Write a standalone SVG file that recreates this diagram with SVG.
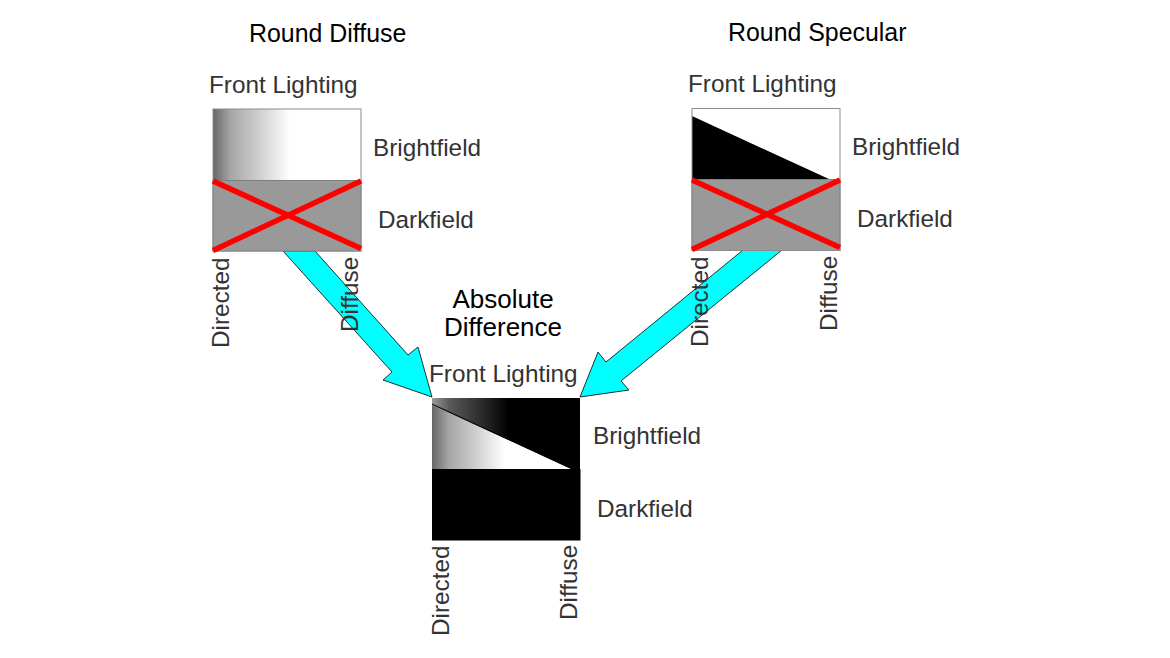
<svg xmlns="http://www.w3.org/2000/svg" width="1170" height="658" viewBox="0 0 1170 658">
<style>
text{font-family:"Liberation Sans",Arial,sans-serif;font-size:24.3px;fill:#333}
.t{fill:#000;font-size:24.9px}
.a{fill:#000;font-size:26px}
.frame{fill:none;stroke:#8c8c8c;stroke-width:1}
.dark{fill:#999;stroke:#808080;stroke-width:1}
.x{stroke:#f00;stroke-width:5.500;fill:none}
.arrow{fill:#0ff;stroke:#000;stroke-width:.8}
</style>
<defs>
<linearGradient id="g1" x1="0" x2="1" y1="0" y2="0"><stop offset="0" stop-color="#666"/><stop offset=".12" stop-color="#a6a6a6"/><stop offset=".3" stop-color="#ccc"/><stop offset=".52" stop-color="#fff"/></linearGradient>
<linearGradient id="g2" x1="0" x2="1" y1="0" y2="0"><stop offset="0" stop-color="#999"/><stop offset=".12" stop-color="#595959"/><stop offset=".3" stop-color="#333"/><stop offset=".52" stop-color="#000"/></linearGradient>
</defs>
<rect width="1170" height="658" fill="#fff"/>
<g id="connectors">
<path class="arrow" d="M283 251L392 372L383 380L432 397L418 347L408 355L315 251Z"/>
<path class="arrow" d="M743 250L606 362L598 352L580 397L629 390L621 381L782 250Z"/>
</g>
<g id="round-diffuse">
<text class="t" x="249" y="42">Round Diffuse</text>
<text x="209" y="93">Front Lighting</text>
<rect x="213" y="109" width="148" height="71.500" fill="url(#g1)"/>
<rect class="dark" x="213" y="180.500" width="148" height="70.500"/>
<rect class="frame" x="213" y="109" width="148" height="142"/>
<path class="x" d="M213 181L361 248.500M213 250.500L361 181"/>
<text x="373" y="156">Brightfield</text>
<text x="378" y="228">Darkfield</text>
<text transform="translate(229 348) rotate(-90)">Directed</text>
<text transform="translate(358 332) rotate(-90)">Diffuse</text>
</g>
<g id="round-specular">
<text class="t" x="728" y="41">Round Specular</text>
<text x="688" y="92">Front Lighting</text>
<rect x="692" y="108.500" width="148" height="71" fill="#fff"/>
<path d="M692 116L692 179.500L830 179.500Z" fill="#000"/>
<rect class="dark" x="692" y="179.500" width="148" height="71"/>
<rect class="frame" x="692" y="108.500" width="148" height="142"/>
<path class="x" d="M692 180L840 247.500M692 249.500L840 180"/>
<text x="852" y="155">Brightfield</text>
<text x="857" y="227">Darkfield</text>
<text transform="translate(708 347) rotate(-90)">Directed</text>
<text transform="translate(837 331) rotate(-90)">Diffuse</text>
</g>
<g id="absolute-difference">
<text class="a" x="503" y="308" text-anchor="middle">Absolute</text>
<text class="a" x="503" y="336" text-anchor="middle">Difference</text>
<text x="429" y="382">Front Lighting</text>
<rect x="432" y="398" width="148" height="71" fill="url(#g2)"/>
<path d="M432 405L432 469L572 469Z" fill="url(#g1)"/>
<path d="M432 404L572 469" fill="none" stroke="#000" stroke-width="1"/>
<rect x="432" y="469" width="148.500" height="71.500" fill="#000"/>
<text x="593" y="444">Brightfield</text>
<text x="597" y="517">Darkfield</text>
<text transform="translate(449 636) rotate(-90)">Directed</text>
<text transform="translate(577 620) rotate(-90)">Diffuse</text>
</g>
</svg>
